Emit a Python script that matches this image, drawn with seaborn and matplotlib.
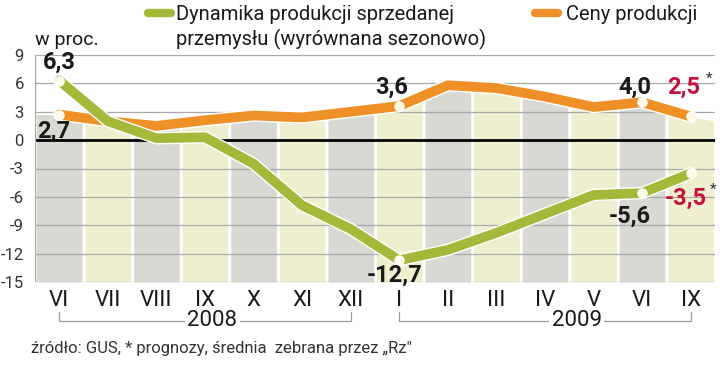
import numpy as np
import pandas as pd
import seaborn as sns
import matplotlib
matplotlib.use("Agg")
import matplotlib.pyplot as plt
import matplotlib.patheffects as pe
from matplotlib import font_manager

months = ["VI", "VII", "VIII", "IX", "X", "XI", "XII", "I", "II", "III", "IV", "V", "VI", "IX"]
dynamika = [6.3, 2.0, 0.2, 0.3, -2.5, -6.9, -9.4, -12.7, -11.6, -9.8, -7.8, -5.8, -5.6, -3.5]
ceny = [2.7, 2.0, 1.5, 2.1, 2.6, 2.4, 3.0, 3.6, 5.8, 5.5, 4.6, 3.5, 4.0, 2.5]
yticks = [9, 6, 3, 0, -3, -6, -9, -12, -15]
years = ["2008", "2009"]

sns.set_theme(style="white")
names = {f.name for f in font_manager.fontManager.ttflist}
fam = "Liberation Sans Narrow" if "Liberation Sans Narrow" in names else "Roboto"
plt.rcParams["font.family"] = [fam, "DejaVu Sans"]

GREEN = "#a5b83a"
ORANGE = "#ef9026"
RED = "#c4123e"
GRAY_BAND = "#d9d9d3"
YEL_BAND = "#efefcf"
TXT = "#1a1a1a"

fig = plt.figure(figsize=(7.2, 3.7), dpi=100)
ax = fig.add_axes([35 / 720, 1 - 282 / 370, 680 / 720, 227 / 370])
ax.set_xlim(-0.5, 13.5)
ax.set_ylim(-15, 9)

x = np.arange(len(months))
# bands under the orange line
xe = np.concatenate([[-0.5], x, [13.5]])
ye = np.concatenate([[ceny[0]], ceny, [ceny[-1] - 0.5]])
for i in range(len(months)):
    xs = np.linspace(i - 0.5 + 0.03, i + 0.5 - 0.03, 20)
    ys = np.interp(xs, xe, ye)
    ax.fill_between(xs, -15, ys, color=GRAY_BAND if i % 2 == 0 else YEL_BAND, lw=0, zorder=1)

for t in yticks:
    if t == 0:
        ax.axhline(0, color="black", lw=2, zorder=2)
    else:
        ax.axhline(t, color="#a8a8a8", lw=0.9, zorder=2)
ax.axvline(-0.5, color="#a8a8a8", lw=1, zorder=2)

df = pd.DataFrame({"x": x, "dyn": dynamika, "ceny": ceny})
stroke = [pe.Stroke(linewidth=9, foreground="white"), pe.Normal()]
sns.lineplot(data=df, x="x", y="ceny", ax=ax, color=ORANGE, lw=7, zorder=4,
             path_effects=stroke, solid_capstyle="round", solid_joinstyle="round")
sns.lineplot(data=df, x="x", y="dyn", ax=ax, color=GREEN, lw=7, zorder=5,
             path_effects=stroke, solid_capstyle="round", solid_joinstyle="round")
mk = [0, 7, 12, 13]
ax.scatter(x[mk], np.array(ceny)[mk], s=45, color="#fffbe8", edgecolor="white", lw=0.8, zorder=6)
ax.scatter(x[mk], np.array(dynamika)[mk], s=45, color="#fffbe8", edgecolor="white", lw=0.8, zorder=6)

ax.set_xticks(x)
ax.set_xticklabels(months, fontsize=16, color=TXT)
ax.set_yticks(yticks)
ax.set_yticklabels([str(t) for t in yticks], fontsize=12, color="#333333")
ax.tick_params(axis="both", length=0, pad=6)
ax.tick_params(axis="y", pad=8)
for s in ax.spines.values():
    s.set_visible(False)
ax.set_xlabel("")
ax.set_ylabel("")

lab = dict(fontsize=17, fontweight="bold", ha="center", va="center", zorder=7)
ax.text(0.0, 8.2, "6,3", color=TXT, **lab)
ax.text(-0.12, 0.9, "2,7", color=TXT, **lab)
ax.text(6.85, 5.6, "3,6", color=TXT, **lab)
ax.text(11.85, 5.6, "4,0", color=TXT, **lab)
ax.text(12.85, 5.6, "2,5", color=RED, **lab)
ax.text(13.38, 6.5, "*", color="#333333", fontsize=11, ha="center", va="center")
ax.text(6.9, -14.3, "-12,7", color=TXT, **lab)
ax.text(11.75, -8.0, "-5,6", color=TXT, **lab)
ax.text(12.9, -6.2, "-3,5", color=RED, **lab)
ax.text(13.47, -5.3, "*", color="#333333", fontsize=11, ha="center", va="center")

# year brackets
tr = ax.get_xaxis_transform()
yb = -(321 - 282) / 227
yt = -(312 - 282) / 227
for (a, b, yr, cx) in [(0, 6, years[0], 3.15), (7, 13, years[1], 10.65)]:
    ax.plot([a, a, b, b], [yt, yb, yb, yt], transform=tr, color="#9a9a9a", lw=0.9, clip_on=False)
    ax.text(cx, yb, yr, transform=tr, fontsize=16, color=TXT, ha="center", va="center",
            bbox=dict(facecolor="white", edgecolor="none", pad=2))

# header
fig.text(35 / 720, 1 - 40 / 370, "w proc.", fontsize=14, color=TXT, va="center", ha="left")
fig.add_artist(plt.Line2D([148 / 720, 171 / 720], [1 - 13 / 370] * 2, color=GREEN, lw=6,
                          solid_capstyle="round"))
fig.text(176 / 720, 1 - 14 / 370, "Dynamika produkcji sprzedanej", fontsize=14.5, color=TXT, va="center")
fig.text(176 / 720, 1 - 39 / 370, "przemysłu (wyrównana sezonowo)", fontsize=14.5, color=TXT, va="center")
fig.add_artist(plt.Line2D([535 / 720, 558 / 720], [1 - 13 / 370] * 2, color=ORANGE, lw=6,
                          solid_capstyle="round"))
fig.text(566 / 720, 1 - 14 / 370, "Ceny produkcji", fontsize=14.5, color=TXT, va="center")

fig.text(31 / 720, 1 - 349 / 370, "źródło: GUS, * prognozy, średnia  zebrana przez „Rz\"",
         fontsize=12, color="#333333", va="center", ha="left")

fig.savefig("out.png", dpi=100, facecolor="white")
